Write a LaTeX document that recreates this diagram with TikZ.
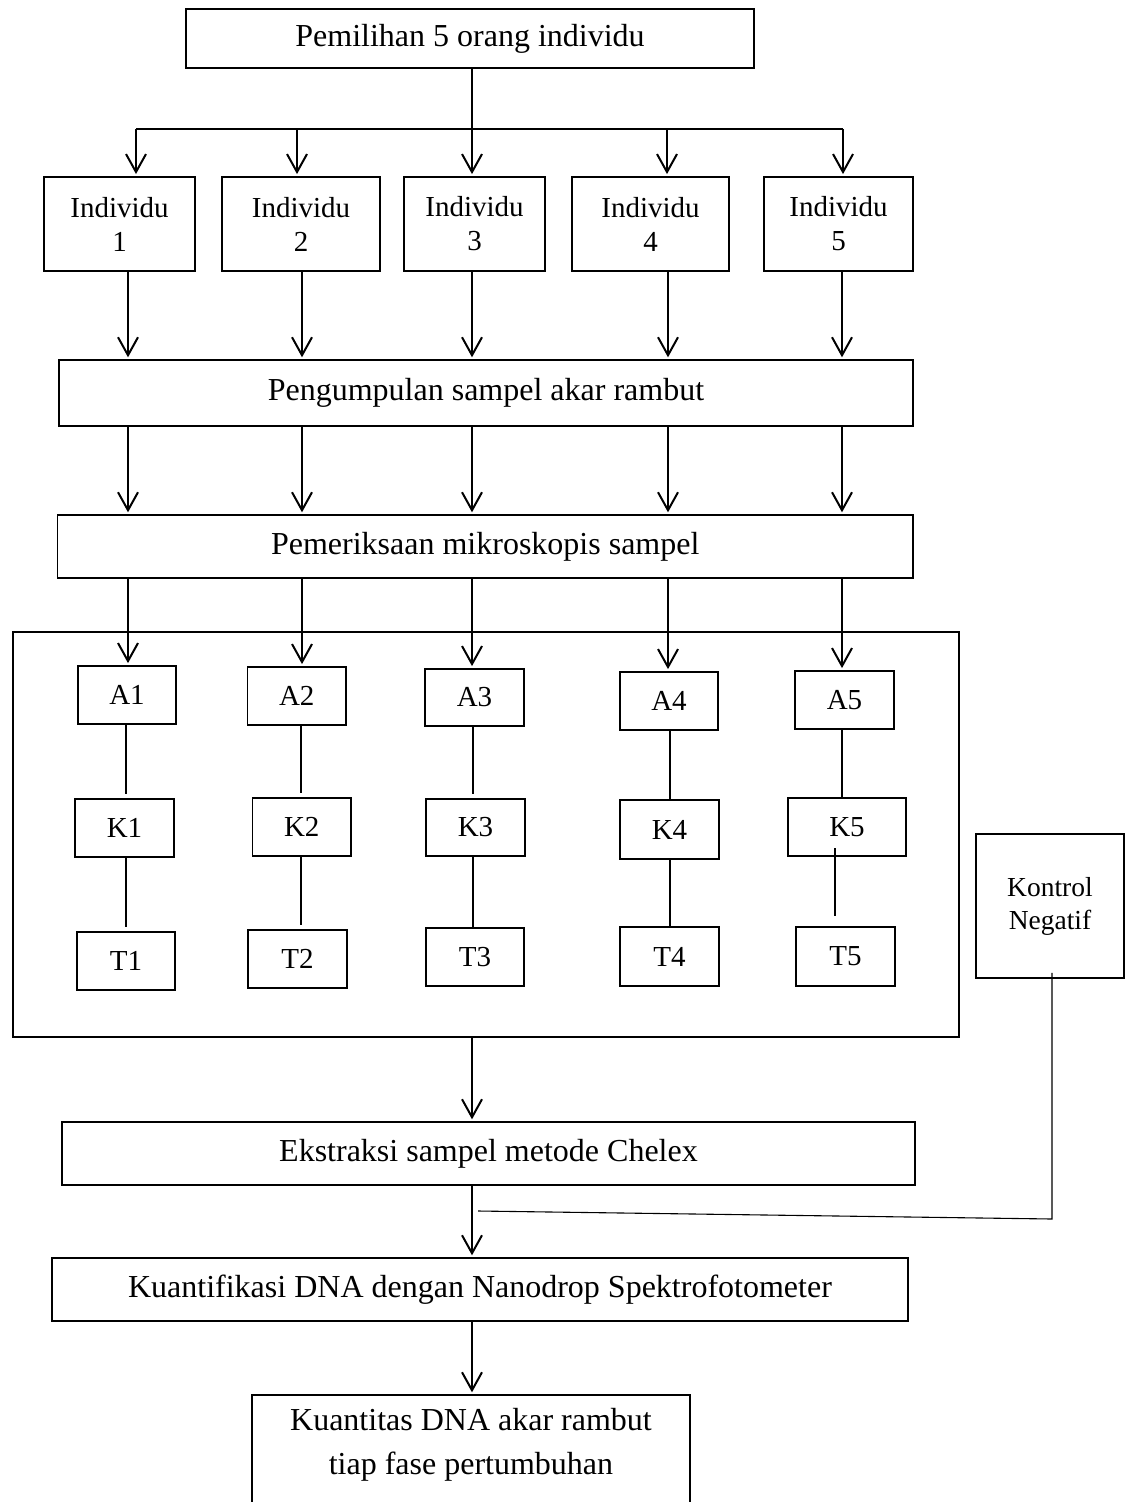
\documentclass[tikz,border=0pt]{standalone}
\usepackage{fontspec}
\setmainfont{Liberation Serif}
\usetikzlibrary{arrows.meta}
\newcommand{\bigf}{\fontsize{16pt}{20pt}\selectfont}
\newcommand{\smf}{\fontsize{14.5pt}{17pt}\selectfont}
\newcommand{\kf}{\fontsize{13.75pt}{16.5pt}\selectfont}
\begin{document}
\begin{tikzpicture}[x=0.5pt,y=-0.5pt,
  box/.style={draw, line width=0.9pt, inner sep=0pt, align=center},
  sbox/.style={box, font=\smf},
  wbox/.style={draw, line width=0.7pt, inner sep=0pt, align=center, font=\bigf},
  arr/.style={line width=1pt, -{Straight Barb[length=9pt,width=10pt,line width=1pt]}, shorten >=1pt},
  link/.style={line width=0.55pt},
]
\useasboundingbox (0,0) rectangle (1133,1502);

% main boxes
\node[box, font=\bigf, minimum width=284pt, minimum height=29.5pt] (top) at (470,38.5) {Pemilihan 5 orang individu};

\node[sbox, minimum width=75.5pt, minimum height=47pt] (ind1) at (119.5,224) {Individu\\1};
\node[sbox, minimum width=79pt, minimum height=47pt] (ind2) at (301,224) {Individu\\2};
\node[sbox, minimum width=70.5pt, minimum height=47pt] (ind3) at (474.5,224) {Individu\\3};
\node[sbox, minimum width=78.5pt, minimum height=47pt] (ind4) at (650.5,224) {Individu\\4};
\node[sbox, minimum width=74.5pt, minimum height=47pt] (ind5) at (838.5,224) {Individu\\5};

\node[wbox, minimum width=427pt, minimum height=33pt] (peng) at (486,393) {Pengumpulan sampel akar rambut};
\node[wbox, minimum width=427.75pt, minimum height=31.5pt] (pem) at (485.25,546.5) {Pemeriksaan mikroskopis sampel};

\node[draw, line width=0.6pt, minimum width=473pt, minimum height=202.5pt, inner sep=0pt] (bigbox) at (486,834.5) {};

\node[sbox, minimum width=49pt, minimum height=29pt] (A1) at (127,695) {A1};
\node[sbox, minimum width=49.25pt, minimum height=29pt] (A2) at (296.75,696) {A2};
\node[sbox, minimum width=49.5pt, minimum height=28.5pt] (A3) at (474.5,697.5) {A3};
\node[sbox, minimum width=49pt, minimum height=29pt] (A4) at (669,701) {A4};
\node[sbox, minimum width=49.5pt, minimum height=29pt] (A5) at (844.5,700) {A5};

\node[sbox, minimum width=49.5pt, minimum height=29pt] (K1) at (124.5,828) {K1};
\node[sbox, minimum width=49.25pt, minimum height=29pt] (K2) at (301.75,827) {K2};
\node[sbox, minimum width=49.5pt, minimum height=28.5pt] (K3) at (475.5,827.5) {K3};
\node[sbox, minimum width=49.5pt, minimum height=29.5pt] (K4) at (669.5,829.5) {K4};
\node[sbox, minimum width=59pt, minimum height=29pt] (K5) at (847,827) {K5};

\node[sbox, minimum width=49pt, minimum height=29pt] (T1) at (126,961) {T1};
\node[sbox, minimum width=49.5pt, minimum height=29pt] (T2) at (297.5,959) {T2};
\node[sbox, minimum width=49pt, minimum height=29pt] (T3) at (475,957) {T3};
\node[sbox, minimum width=49.5pt, minimum height=29.5pt] (T4) at (669.5,956.5) {T4};
\node[sbox, minimum width=49.5pt, minimum height=29.5pt] (T5) at (845.5,956.5) {T5};

\node[box, font=\kf, minimum width=74pt, minimum height=72pt] (kontrol) at (1050,906) {Kontrol\\Negatif};

\node[wbox, minimum width=426.5pt, minimum height=31.5pt] (eks) at (488.5,1153.5) {Ekstraksi sampel metode Chelex};
\node[wbox, minimum width=428pt, minimum height=31.5pt] (kuan) at (480,1289.5) {Kuantifikasi DNA dengan Nanodrop Spektrofotometer};
\node[draw, line width=0.7pt, inner sep=0pt, minimum width=219pt, minimum height=67.5pt] (final) at (471,1462.5) {};
\node[font=\bigf, align=center, inner sep=0pt] (finaltext) at (471,1445) {Kuantitas DNA akar rambut\\[2pt]tiap fase pertumbuhan};

% bus from the top box
\coordinate (bus) at (472,129);
\coordinate (b1) at (136,129);
\coordinate (b2) at (297,129);
\coordinate (b3) at (472,129);
\coordinate (b4) at (667,129);
\coordinate (b5) at (843,129);
\draw[link] (top.south -| bus) -- (bus);
\draw[link] (b1) -- (b5);
\foreach \i in {1,...,5} {
  \draw[arr] (b\i) -- (b\i |- ind\i.north);
}

% columns of arrows
\coordinate (c1) at (128,0);
\coordinate (c2) at (302,0);
\coordinate (c3) at (472,0);
\coordinate (c4) at (668,0);
\coordinate (c5) at (842,0);
\foreach \i in {1,...,5} {
  \draw[arr] (c\i |- ind\i.south) -- (c\i |- peng.north);
  \draw[arr] (c\i |- peng.south) -- (c\i |- pem.north);
  \draw[arr] (c\i |- pem.south) -- (c\i |- A\i.north);
}

% links A-K-T
\coordinate (l1) at (126,0);
\coordinate (l2) at (301,0);
\coordinate (l3) at (473,0);
\coordinate (l4) at (670,0);
\coordinate (l5) at (842,0);
\draw[link, shorten >=2pt] (l1 |- A1.south) -- (l1 |- K1.north);
\draw[link, shorten >=2pt] (l1 |- K1.south) -- (l1 |- T1.north);
\draw[link, shorten >=2pt] (l2 |- A2.south) -- (l2 |- K2.north);
\draw[link, shorten >=2pt] (l2 |- K2.south) -- (l2 |- T2.north);
\draw[link, shorten >=2pt] (l3 |- A3.south) -- (l3 |- K3.north);
\draw[link] (l3 |- K3.south) -- (l3 |- T3.north);
\draw[link] (l4 |- A4.south) -- (l4 |- K4.north);
\draw[link] (l4 |- K4.south) -- (l4 |- T4.north);
\draw[link] (l5 |- A5.south) -- (l5 |- K5.north);
\draw[link] ([xshift=-6pt,yshift=-10.5pt]K5.center) -- ([xshift=-5.25pt,yshift=5pt]T5.north);

% central flow
\draw[arr] (c3 |- bigbox.south) -- (c3 |- eks.north);
\draw[arr] (c3 |- eks.south) -- (c3 |- kuan.north);
\draw[arr] (c3 |- kuan.south) -- (c3 |- final.north);

% negative control
\coordinate (kn1) at (1052,1219);
\coordinate (kn2) at (478,1211);
\draw[link] (kn1 |- kontrol.south) ++(0,-6) -- (kn1) -- (kn2);
\end{tikzpicture}
\end{document}
